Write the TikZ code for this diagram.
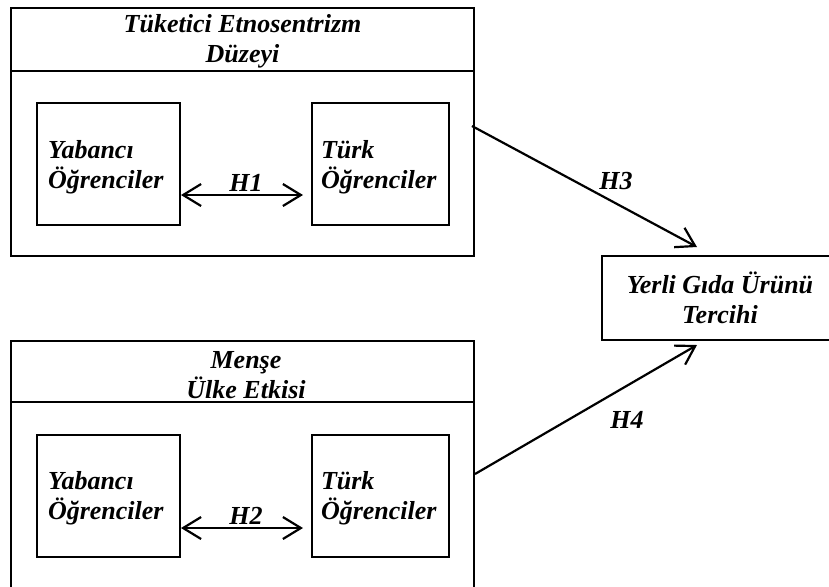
\documentclass[tikz,border=0pt]{standalone}
\usepackage{fontspec}
\setmainfont{Liberation Serif}
\usetikzlibrary{arrows.meta}
\tikzset{
  every node/.style={font=\fontsize{13}{15}\selectfont\bfseries\itshape},
  outerbox/.style={draw, line width=1pt, minimum width=231.5pt, inner sep=0pt},
  group/.style={draw, line width=1pt, minimum height=61pt, align=left, text height=12pt},
  link/.style={line width=1.1pt, -{Straight Barb[length=9pt,width=11pt,line width=1.1pt]}},
  both/.style={line width=1.1pt, {Straight Barb[length=9pt,width=11pt,line width=1.1pt]}-{Straight Barb[length=9pt,width=11pt,line width=1.1pt]}}
}
\begin{document}
\begin{tikzpicture}[x=0.5pt, y=-0.5pt]
\useasboundingbox (0,0) rectangle (829,586);
% upper group
\node[outerbox, minimum height=124pt] (etno) at (242.5,132) {};
\draw[line width=1pt] (etno.west |- 0,71) -- (etno.east |- 0,71);
\node[align=center] (etnoh) at (242.5,41) {Tüketici Etnosentrizm\\Düzeyi};
\node[group, text width=60.5pt, inner xsep=5.5pt] (yab1) at (108.5,164) {Yabancı\\Öğrenciler};
\node[group, text width=59.5pt, inner xsep=4.5pt] (turk1) at (380.5,164) {Türk\\Öğrenciler};
\draw[both, shorten >=4pt] ([yshift=-15.5pt]yab1.east) -- ([yshift=-15.5pt]turk1.west)
  node[midway, above=1pt, inner sep=0pt] {H1};
% lower group
\node[outerbox, minimum height=133pt] (mense) at (242.5,474) {};
\draw[line width=1pt] (mense.west |- 0,402) -- (mense.east |- 0,402);
\node[align=center] (menseh) at (246,375) {Menşe\\Ülke Etkisi};
\node[group, text width=60.5pt, inner xsep=5.5pt] (yab2) at (108.5,495.5) {Yabancı\\Öğrenciler};
\node[group, text width=59.5pt, inner xsep=4.5pt] (turk2) at (380.5,495.5) {Türk\\Öğrenciler};
\draw[both, shorten >=4pt] ([yshift=-16.25pt]yab2.east) -- ([yshift=-16.25pt]turk2.west)
  node[midway, above=1pt, inner sep=0pt] {H2};
% result
\node[draw, line width=1pt, minimum width=118pt, minimum height=42pt, align=center] (yerli) at (720,298) {Yerli Gıda Ürünü\\Tercihi};
\draw[link] ([xshift=-1.5pt,yshift=3pt]etno.east) -- ([xshift=-11.5pt,yshift=4pt]yerli.north)
  node[pos=0.64, above=3pt] {H3};
\draw[link] (mense.east) -- ([xshift=-11.5pt,yshift=-2pt]yerli.south);
\node (h4) at (627,420) {H4};
\end{tikzpicture}
\end{document}
